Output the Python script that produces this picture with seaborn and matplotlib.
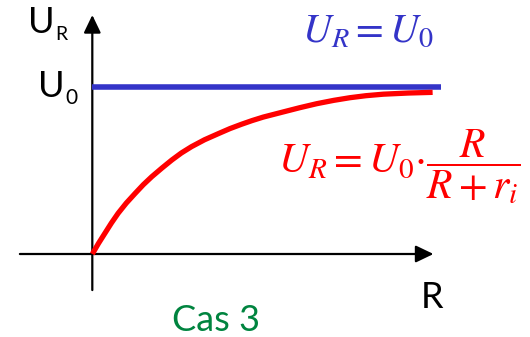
import matplotlib
matplotlib.use("Agg")
import matplotlib.pyplot as plt
import seaborn as sns

sns.set_theme(style="white")
plt.rcParams["font.family"] = ["Lato", "DejaVu Sans"]
plt.rcParams["mathtext.fontset"] = "stix"

# Voltage across the load resistor R versus R (U in units of U0)
R_curve = [0, 0.18, 0.37, 0.56, 0.76, 1.00, 1.26, 1.50, 1.75, 2.05, 2.34, 2.62,
           2.92, 3.30, 3.71, 4.05, 4.39, 4.70, 5.03, 5.62, 6.10, 6.60, 7.10,
           7.58, 8.05, 8.56, 9.30, 10.01]
U_curve = [0, 0.063, 0.124, 0.185, 0.244, 0.305, 0.363, 0.415, 0.463, 0.515,
           0.563, 0.605, 0.643, 0.684, 0.721, 0.751, 0.777, 0.799, 0.820, 0.851,
           0.876, 0.900, 0.920, 0.936, 0.948, 0.957, 0.964, 0.968]

# Ideal source: constant U0
R_ideal = [0, 10.25]
U_ideal = [1, 1]

BLUE = "#3434C8"
RED = "#FF0000"
GREEN = "#00843F"

W, H = 530, 337
fig = plt.figure(figsize=(W / 100, H / 100), dpi=100)
ax = fig.add_axes([0, 0, 1, 1])
ax.set_xlim(-2.715, 12.874)
ax.set_ylim(-0.497, 1.521)
ax.axis("off")


def fpos(x, y):
    """Figure fraction from pixel position measured from the top-left corner."""
    return x / W, 1 - y / H


# Axes with arrow heads
arrow = dict(arrowstyle="-|>,head_length=0.75,head_width=0.36",
             mutation_scale=14.4, lw=1.6, color="black",
             shrinkA=0, shrinkB=0)
ax.annotate("", xy=(10.035, 0), xytext=(-2.13, 0), arrowprops=arrow)
ax.annotate("", xy=(0, 1.431), xytext=(0, -0.216), arrowprops=arrow)

sns.lineplot(x=R_ideal, y=U_ideal, ax=ax, color=BLUE, lw=4.0,
             solid_capstyle="butt", zorder=3)
sns.lineplot(x=R_curve, y=U_curve, ax=ax, color=RED, lw=3.8,
             solid_capstyle="butt", solid_joinstyle="round", zorder=4)

# Axis labels
fig.text(*fpos(28, 33), "U", fontsize=26, color="black", va="baseline")
fig.text(*fpos(55, 40), "R", fontsize=14, color="black", va="baseline")
fig.text(*fpos(38, 97), "U", fontsize=26, color="black", va="baseline")
fig.text(*fpos(65, 104), "0", fontsize=15, color="black", va="baseline")
fig.text(*fpos(421, 308), "R", fontsize=26, color="black", va="baseline")

# Formulas
fig.text(*fpos(302, 42), r"$U_R = U_0$", fontsize=29, color=BLUE, va="baseline")
fig.text(*fpos(278, 173), r"$U_R = U_0{\cdot}\dfrac{R}{R + r_i}$", fontsize=30,
         color=RED, va="baseline")

fig.text(*fpos(172, 331), "Cas 3", fontsize=26, color=GREEN, va="baseline")

fig.savefig("out.png", dpi=100)
